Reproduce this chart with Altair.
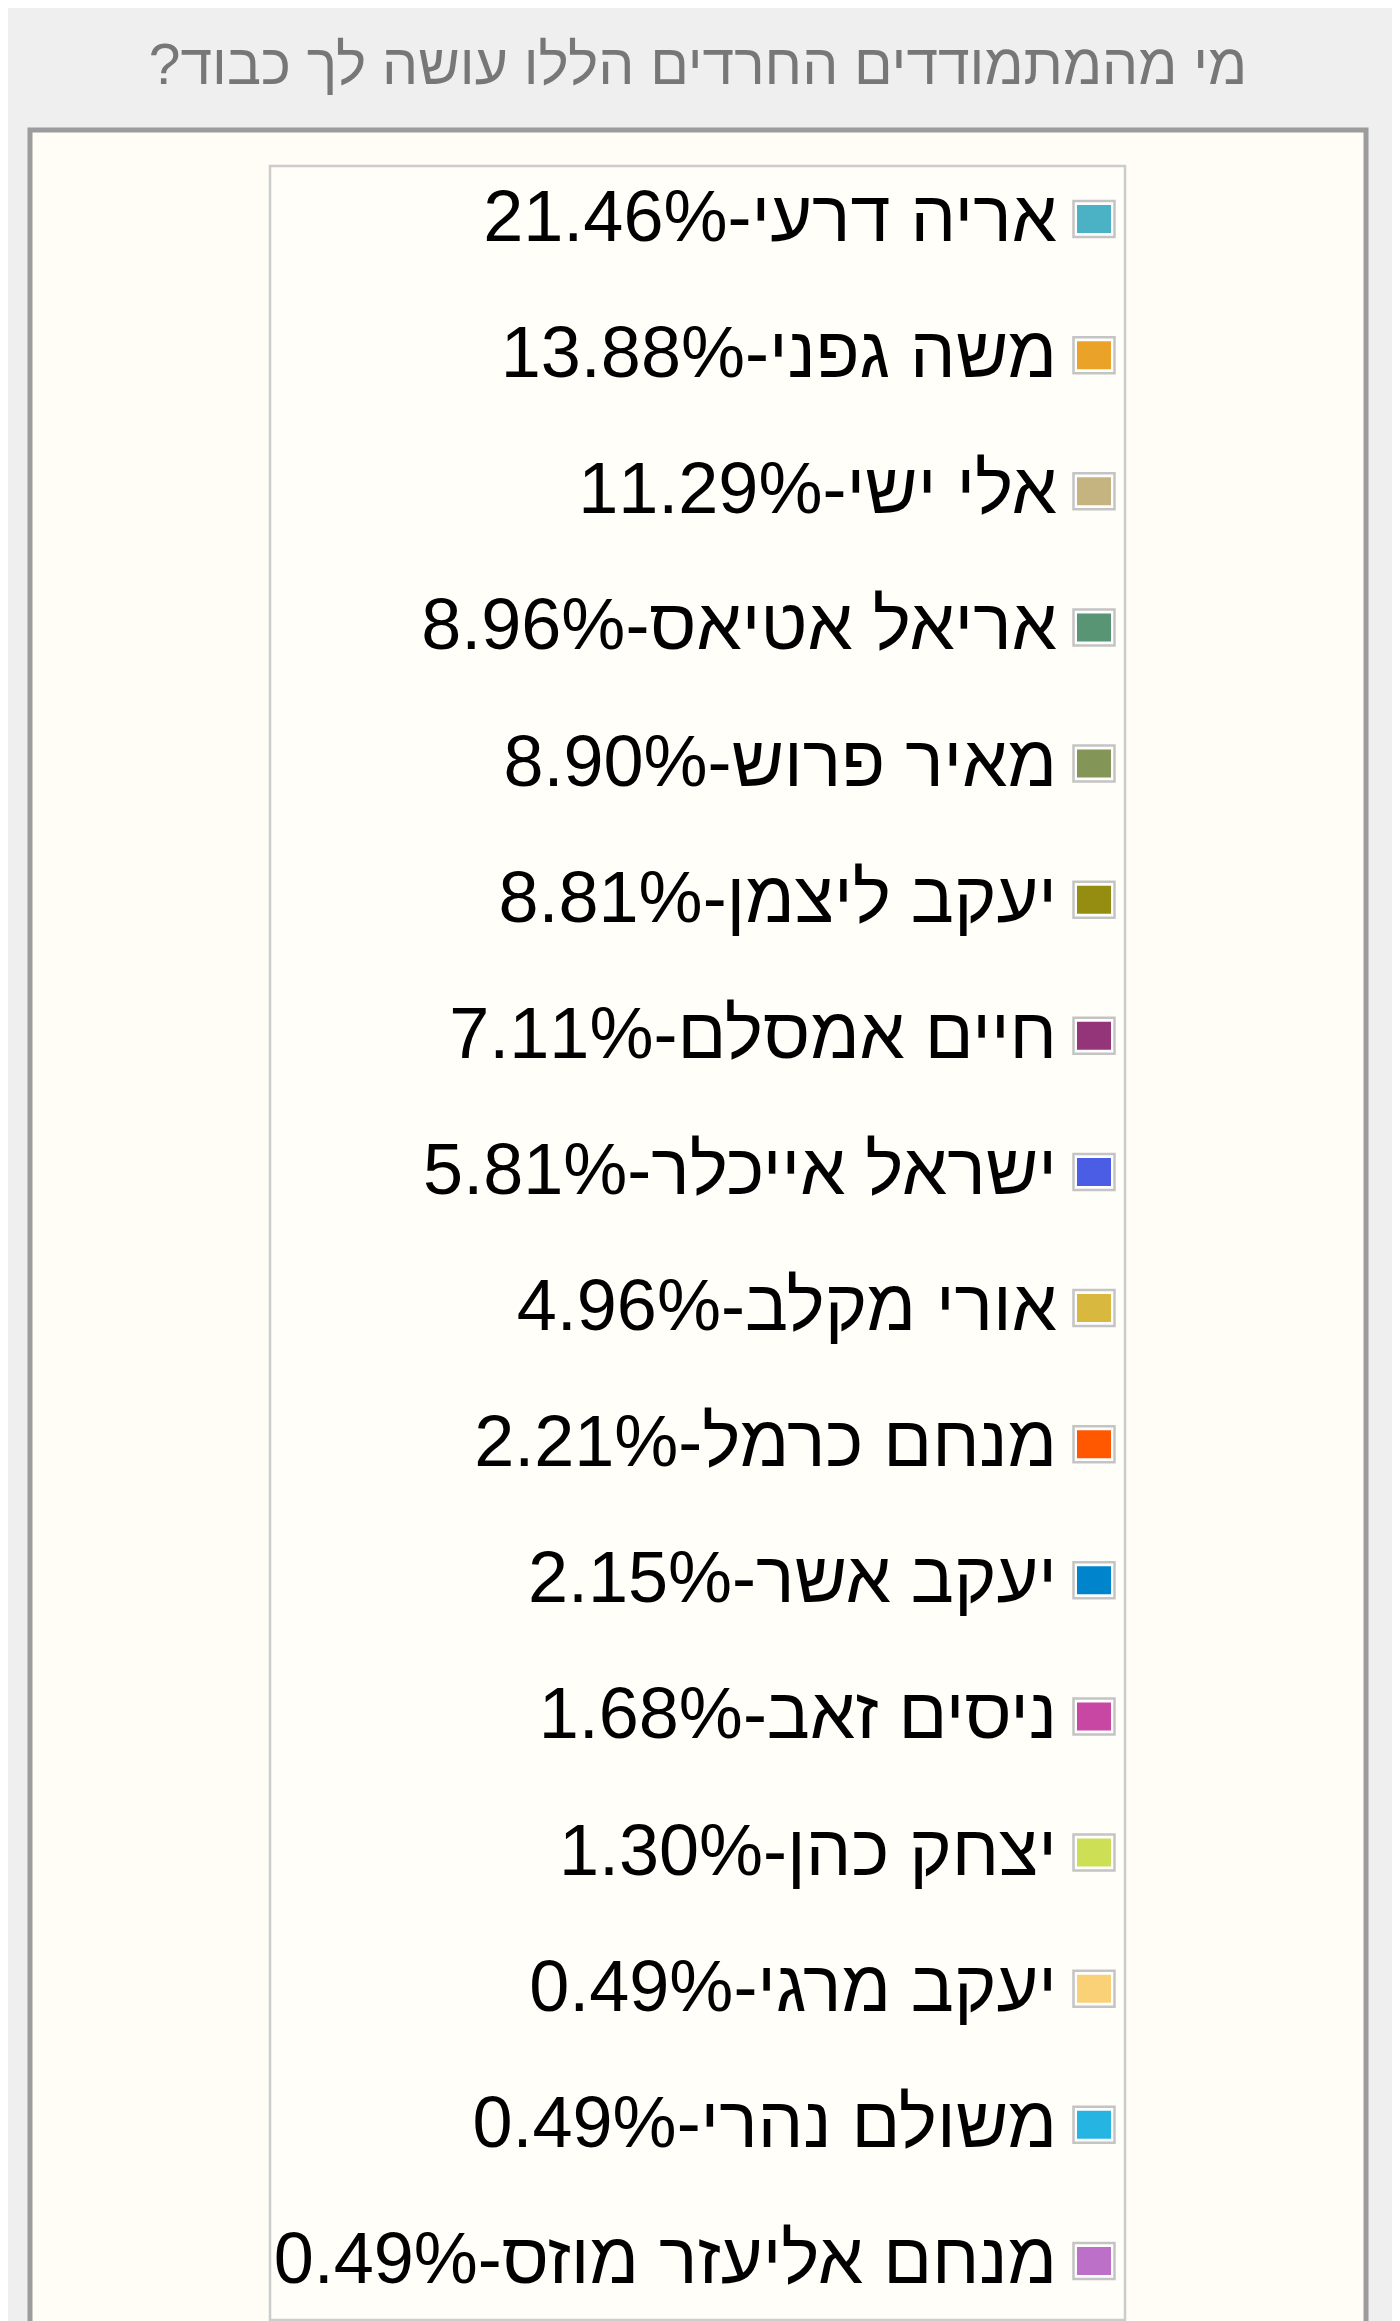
import altair as alt
import pandas as pd

title_text = "מי מהמתמודדים החרדים הללו עושה לך כבוד?\u200f"

names = [
    "אריה דרעי",
    "משה גפני",
    "אלי ישי",
    "אריאל אטיאס",
    "מאיר פרוש",
    "יעקב ליצמן",
    "חיים אמסלם",
    "ישראל אייכלר",
    "אורי מקלב",
    "מנחם כרמל",
    "יעקב אשר",
    "ניסים זאב",
    "יצחק כהן",
    "יעקב מרגי",
    "משולם נהרי",
    "מנחם אליעזר מוזס",
]
values = [21.46, 13.88, 11.29, 8.96, 8.90, 8.81, 7.11, 5.81, 4.96, 2.21, 2.15, 1.68, 1.30, 0.49, 0.49, 0.49]
colors = ["#4bb2c5", "#eaa228", "#c5b47f", "#579575", "#839557", "#958c12", "#953579", "#4b5de4",
          "#d8b83f", "#ff5800", "#0085cc", "#c747a3", "#cddf54", "#fbd178", "#26b4e3", "#bd70c7"]

labels = [f"{n}-{v:.2f}%" for n, v in zip(names, values)]
df = pd.DataFrame({"name": names, "value": values, "label": labels})

W, H = 1336, 2300

yenc = alt.Y("label:N", sort=labels, scale=alt.Scale(type="point", range=[89, 2131], padding=0), axis=None)

box = alt.Chart(pd.DataFrame({"a": [0]})).mark_rect(
    fill="#fffef9", stroke="#cccccc", strokeWidth=2.5
).encode(x=alt.value(240), x2=alt.value(1095), y=alt.value(36), y2=alt.value(2190))

swatch_border = alt.Chart(df).mark_point(
    shape="M-1,-0.878H1V0.878H-1Z", size=1681, filled=True, fill="#ffffff",
    stroke="#c4c4c4", strokeWidth=2.5, opacity=1
).encode(x=alt.value(1064), y=yenc)

swatch = alt.Chart(df).mark_point(
    shape="M-1,-0.824H1V0.824H-1Z", size=1156, filled=True, opacity=1, strokeWidth=0
).encode(
    x=alt.value(1064), y=yenc,
    color=alt.Color("name:N", scale=alt.Scale(domain=names, range=colors), legend=None),
)

text = alt.Chart(df).mark_text(
    align="right", baseline="middle", fontSize=72, font="Liberation Sans", color="#000000"
).encode(x=alt.value(1027), y=yenc, text="label:N")

chart = alt.layer(box, swatch_border, swatch, text).properties(
    width=W, height=H,
    title=alt.TitleParams(text=title_text, fontSize=57, color="#777777", font="Liberation Sans",
                          fontWeight="normal", anchor="middle", offset=34),
    padding={"left": 22, "top": 30, "right": 26, "bottom": 0},
    background="#efefef",
).configure_view(fill="#fffdf6", stroke="#9c9c9c", strokeWidth=5)

chart.save("out.html", embed_options={"renderer": "svg", "actions": False})
